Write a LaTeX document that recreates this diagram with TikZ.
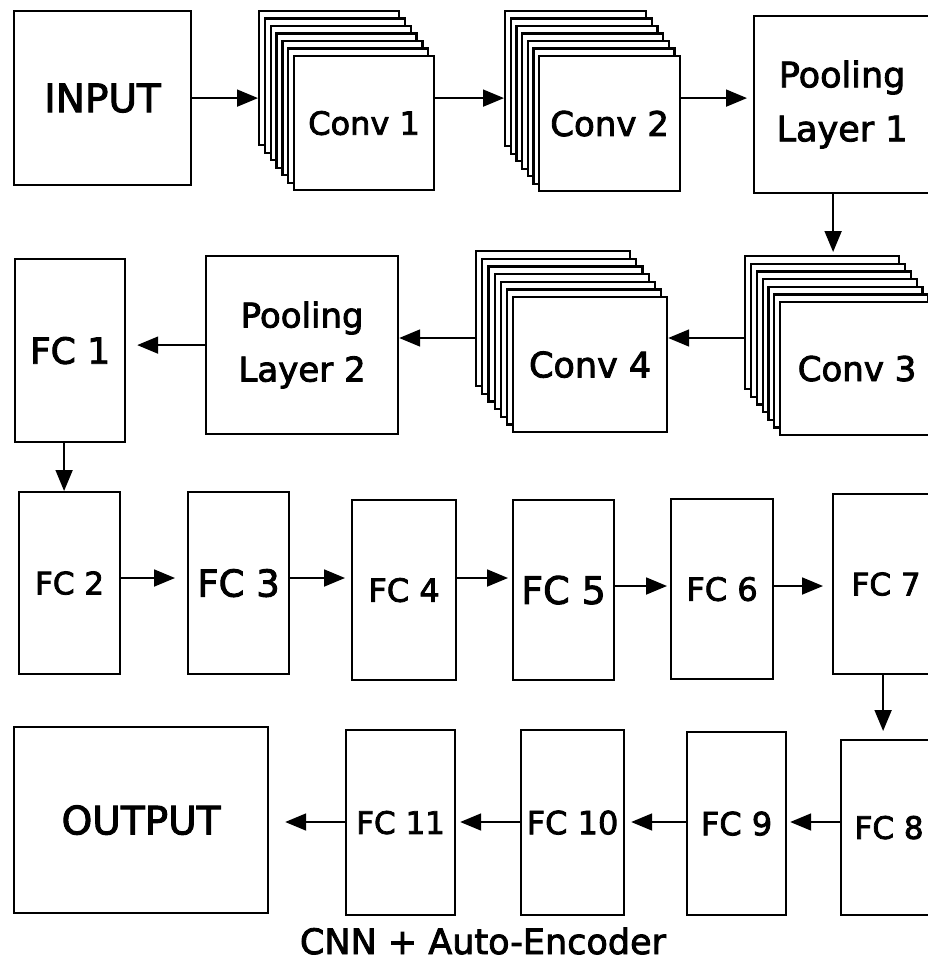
\documentclass[tikz,border=0pt]{standalone}
\usepackage{fontspec}
\setmainfont{DejaVu Sans}[FakeBold=2.5]
\usetikzlibrary{arrows.meta,calc}
\tikzset{
  blk/.style={draw, line width=2.2pt, fill=white, inner sep=0pt, anchor=north west, align=center},
  arr/.style={line width=1.8pt, -{Triangle[length=21pt,width=17pt]}},
}
\newcommand\fsz[1]{\fontsize{#1}{54}\selectfont}
% name, x, y, dx, dy, w, h, text, fontsize
\newcommand\convstack[9]{%
  \foreach \i in {0,...,5} {
    \node[blk, minimum width=#6pt, minimum height=#7pt] (#1-\i) at ({#2+\i*#4},{#3+\i*#5}) {};
  }
  \node[blk, minimum width=#6pt, minimum height=#7pt, font=\fsz{#9}] (#1) at ({#2+6*#4},{#3+6*#5}) {#8};
}
\begin{document}
\begin{tikzpicture}[x=1pt, y=-1pt]
\useasboundingbox (0,0) rectangle (928,963);
\clip (0,0) rectangle (928,963);
\fill[white] (0,0) rectangle (928,963);

% row 1
\node[blk, minimum width=177pt, minimum height=174pt, font=\fsz{39}] (input) at (13,10) {INPUT};
\convstack{conv1}{258}{10}{5.83}{7.5}{140}{134}{Conv 1}{32}
\convstack{conv2}{504}{10}{5.67}{7.5}{141}{135}{Conv 2}{34}
\node[blk, minimum width=176pt, minimum height=177pt, font=\fsz{35}] (pool1) at (753,15) {Pooling\\Layer 1};

% row 2
\convstack{conv3}{744}{255}{5.83}{7.67}{154}{133}{Conv 3}{34}
\convstack{conv4}{475}{250}{6.17}{7.67}{154}{135}{Conv 4}{35}
\node[blk, minimum width=192pt, minimum height=178pt, font=\fsz{34}] (pool2) at (205,255) {Pooling\\Layer 2};
\node[blk, minimum width=110pt, minimum height=183pt, font=\fsz{36}] (fc1) at (14,258) {FC 1};

% row 3
\node[blk, minimum width=101pt, minimum height=182pt, font=\fsz{31}] (fc2) at (18,491) {FC 2};
\node[blk, minimum width=101pt, minimum height=182pt, font=\fsz{37}] (fc3) at (187,491) {FC 3};
\node[blk, minimum width=104pt, minimum height=180pt, font=\fsz{32}] (fc4) at (351,499) {FC 4};
\node[blk, minimum width=101pt, minimum height=180pt, font=\fsz{38}] (fc5) at (512,499) {FC 5};
\node[blk, minimum width=102pt, minimum height=180pt, font=\fsz{32}] (fc6) at (670,498) {FC 6};
\node[blk, minimum width=106pt, minimum height=180pt, font=\fsz{31}] (fc7) at (832,493) {FC 7};

% row 4
\node[blk, minimum width=96pt, minimum height=175pt, font=\fsz{31}] (fc8) at (840,739) {FC 8};
\node[blk, minimum width=99pt, minimum height=183pt, font=\fsz{32}] (fc9) at (686,731) {FC 9};
\node[blk, minimum width=103pt, minimum height=185pt, font=\fsz{32}] (fc10) at (520,729) {FC 10};
\node[blk, minimum width=109pt, minimum height=185pt, font=\fsz{31}] (fc11) at (345,729) {FC 11};
\node[blk, minimum width=254pt, minimum height=186pt, font=\fsz{39}] (output) at (13,726) {OUTPUT};

\node[font=\fsz{35}, inner sep=0pt] (caption) at (483,941) {CNN + Auto-Encoder};

% row guide coordinates
\coordinate (r2) at (0,338);
\coordinate (r3a) at (0,578);
\coordinate (r3b) at (0,586);
\coordinate (r4) at (0,822);

% connectors
\draw[arr] (input.east) -- (input.east -| conv1-0.west);
\draw[arr] (conv1.east |- input.east) -- (conv2-0.west |- input.east);
\draw[arr, shorten >=6pt] (conv2.east |- input.east) -- (pool1.west |- input.east);
\draw[arr, shorten >=3pt] ([xshift=-9pt]pool1.south) -- ([xshift=-9pt]pool1.south |- conv3-0.north);
\draw[arr] (conv3-0.west |- r2) -- (conv4.east |- r2);
\draw[arr] (conv4-0.west |- r2) -- (pool2.east |- r2);
\draw[arr, shorten >=11pt] (pool2.west) -- (pool2.west -| fc1.east);
\draw[arr] ([xshift=-6pt]fc1.south) -- ([xshift=-6pt]fc1.south |- fc2.north);
\draw[arr, shorten >=12pt] (fc2.east |- r3a) -- (fc3.west |- r3a);
\draw[arr, shorten >=6pt] (fc3.east |- r3a) -- (fc4.west |- r3a);
\draw[arr, shorten >=4pt] (fc4.east |- r3a) -- (fc5.west |- r3a);
\draw[arr, shorten >=3pt] (fc5.east |- r3b) -- (fc6.west |- r3b);
\draw[arr, shorten >=9pt] (fc6.east |- r3b) -- (fc7.west |- r3b);
\draw[arr, shorten >=8pt] ([xshift=-3pt]fc7.south) -- ([xshift=-3pt]fc7.south |- fc8.north);
\draw[arr, shorten >=3pt] (fc8.west |- r4) -- (fc9.east |- r4);
\draw[arr, shorten >=6pt] (fc9.west |- r4) -- (fc10.east |- r4);
\draw[arr, shorten >=4pt] (fc10.west |- r4) -- (fc11.east |- r4);
\draw[arr, shorten >=16pt] (fc11.west |- r4) -- (output.east |- r4);
\end{tikzpicture}
\end{document}
